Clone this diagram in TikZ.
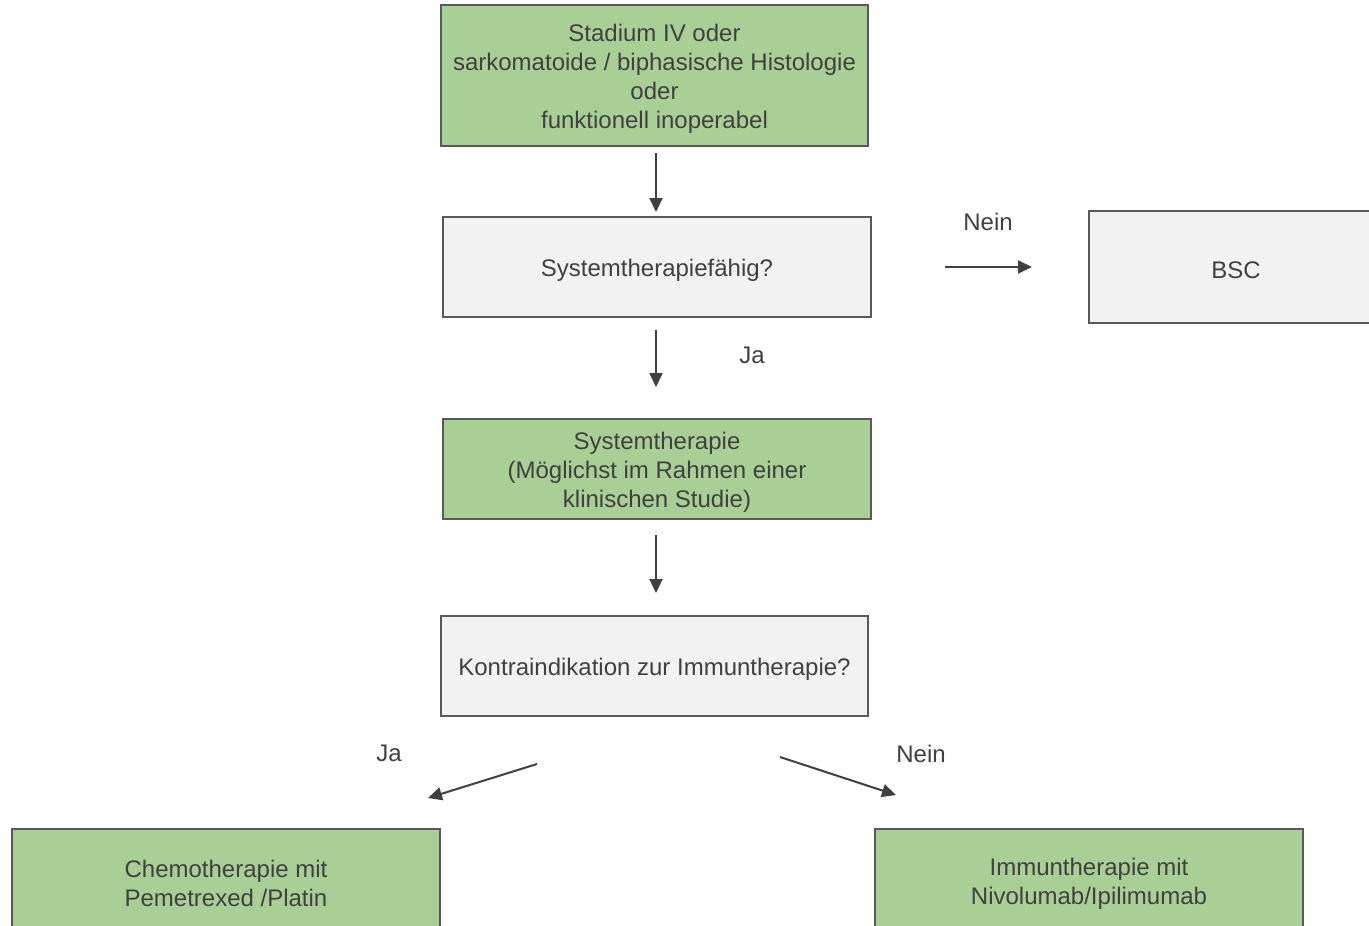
\documentclass[tikz,border=0pt]{standalone}
\usepackage{fontspec}
\setmainfont{Liberation Sans}
\usetikzlibrary{arrows.meta}
\definecolor{boxgreen}{HTML}{A9CF97}
\definecolor{boxgray}{HTML}{F2F2F2}
\definecolor{edgegray}{HTML}{595959}
\definecolor{txtgray}{HTML}{404040}
\newcommand{\topstrut}{\rule{0pt}{24pt}}
\tikzset{
  boxbase/.style={draw=edgegray, line width=2pt, rectangle, inner sep=0pt, align=center,
    text=txtgray, font=\fontsize{24pt}{29pt}\selectfont},
  oneline/.style={execute at begin node={\rule{0pt}{23.5pt}}},
  greenbox/.style={boxbase, fill=boxgreen},
  graybox/.style={boxbase, fill=boxgray},
  conn/.style={draw=txtgray, line width=2pt, -{Triangle[length=14pt,width=13pt]}},
  lbl/.style={text=txtgray, font=\fontsize{24pt}{29pt}\selectfont, inner sep=0pt}
}
\begin{document}
\begin{tikzpicture}[x=1pt,y=1pt]
\useasboundingbox (0,0) rectangle (1369,-926);
\clip (0,0) rectangle (1369,-926);
\fill[white] (0,0) rectangle (1369,-926);

\node[greenbox, minimum width=427pt, minimum height=141pt] (b1) at (654.5,-75.5)
  {\topstrut Stadium IV oder\\sarkomatoide / biphasische Histologie\\oder\\funktionell inoperabel};
\node[graybox, oneline, minimum width=428pt, minimum height=100pt] (b2) at (657,-267) {Systemtherapiefähig?};
\node[graybox, oneline, minimum width=294pt, minimum height=112pt] (bsc) at (1236,-267) {BSC};
\node[greenbox, minimum width=428pt, minimum height=100pt] (b3) at (657,-469)
  {\topstrut Systemtherapie\\(Möglichst im Rahmen einer\\klinischen Studie)};
\node[graybox, oneline, minimum width=427pt, minimum height=100pt] (b4) at (654.5,-666) {Kontraindikation zur Immuntherapie?};
\node[greenbox, minimum width=428pt, minimum height=103pt] (b5) at (226,-880.5)
  {\topstrut Chemotherapie mit\\Pemetrexed /Platin};
\node[greenbox, minimum width=428pt, minimum height=103pt] (b6) at (1089,-880.5)
  {\topstrut Immuntherapie mit\\Nivolumab/Ipilimumab};

% arrow end points (arrows float between boxes)
\coordinate (a1s) at (656,-153); \coordinate (a1e) at (656,-212);
\coordinate (a2s) at (656,-330); \coordinate (a2e) at (656,-387);
\coordinate (a3s) at (656,-535); \coordinate (a3e) at (656,-593);
\coordinate (ans) at (945,-267); \coordinate (ane) at (1032,-267);
\coordinate (ajs) at (537,-764); \coordinate (aje) at (428,-798);
\coordinate (ars) at (780,-757); \coordinate (are) at (896,-795);

\draw[conn] (a1s) -- (a1e);
\draw[conn] (a2s) -- (a2e);
\draw[conn] (a3s) -- (a3e);
\draw[conn] (ans) -- (ane);
\draw[conn] (ajs) -- (aje);
\draw[conn] (ars) -- (are);

\node[lbl] (lnein1) at (988,-222) {Nein};
\node[lbl] (lja1) at (752,-355) {Ja};
\node[lbl] (lja2) at (389,-753) {Ja};
\node[lbl] (lnein2) at (921,-754) {Nein};
\end{tikzpicture}
\end{document}
